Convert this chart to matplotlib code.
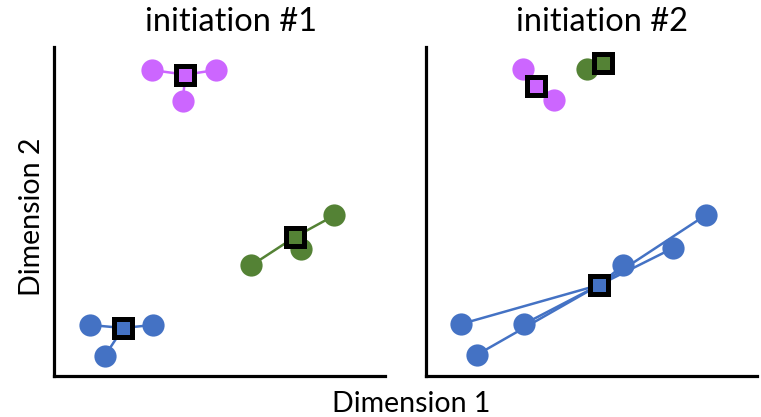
import matplotlib
matplotlib.use("Agg")
import matplotlib.pyplot as plt

plt.rcParams['font.family'] = ['Lato', 'DejaVu Sans']

BLUE = '#4472C4'
GREEN = '#548235'
PINK = '#CC66FF'

# ---- data (arbitrary 0-10 units) ----
titles = ['initiation #1', 'initiation #2']

# initiation #1
i1_pink_x = [2.95, 4.89, 3.89]
i1_pink_y = [9.30, 9.30, 8.37]
i1_pink_c = (3.97, 9.16)
i1_green_x = [5.96, 7.45, 8.47]
i1_green_y = [3.36, 3.87, 4.88]
i1_green_c = (7.27, 4.22)
i1_blue_x = [1.09, 2.98, 1.54]
i1_blue_y = [1.55, 1.55, 0.62]
i1_blue_c = (2.09, 1.46)

# initiation #2
i2_pink_x = [2.92, 3.87]
i2_pink_y = [9.32, 8.38]
i2_pink_c = (3.31, 8.80)
i2_green_x = [4.87]
i2_green_y = [9.32]
i2_green_c = (5.36, 9.52)
i2_blue_x = [1.06, 2.96, 1.53, 5.96, 7.45, 8.45]
i2_blue_y = [1.58, 1.58, 0.64, 3.38, 3.88, 4.89]
i2_blue_c = (5.24, 2.77)

panels = [
    [(i1_pink_x, i1_pink_y, i1_pink_c, PINK),
     (i1_green_x, i1_green_y, i1_green_c, GREEN),
     (i1_blue_x, i1_blue_y, i1_blue_c, BLUE)],
    [(i2_pink_x, i2_pink_y, i2_pink_c, PINK),
     (i2_green_x, i2_green_y, i2_green_c, GREEN),
     (i2_blue_x, i2_blue_y, i2_blue_c, BLUE)],
]

W, H = 761, 417
fig = plt.figure(figsize=(W / 100, H / 100), dpi=100)

axes_px = [(54, 47, 385, 376), (426, 47, 757, 376)]
for (l, t, r, b), clusters in zip(axes_px, panels):
    ax = fig.add_axes([l / W, 1 - b / H, (r - l) / W, (b - t) / H])
    ax.set_xlim(0, 10)
    ax.set_ylim(0, 10)
    for s in ['top', 'right']:
        ax.spines[s].set_visible(False)
    for s in ['left', 'bottom']:
        ax.spines[s].set_linewidth(2.3)
        ax.spines[s].set_color('black')
    ax.set_xticks([])
    ax.set_yticks([])
    for xs, ys, (cx, cy), col in clusters:
        for x, y in zip(xs, ys):
            ax.plot([x, cx], [y, cy], color=col, lw=1.8, zorder=1,
                    solid_capstyle='butt')
    for xs, ys, (cx, cy), col in clusters:
        ax.plot(xs, ys, 'o', color=col, ms=16, mew=0, zorder=2, linestyle='none')
    for xs, ys, (cx, cy), col in clusters:
        ax.plot([cx], [cy], 's', mfc=col, mec='black', ms=13, mew=3.6,
                zorder=3, linestyle='none')

fig.text(231 / W, 1 - 22 / H, titles[0], ha='center', va='center', fontsize=23.5)
fig.text(602.5 / W, 1 - 22 / H, titles[1], ha='center', va='center', fontsize=23.5)
fig.text(411 / W, 1 - 404 / H, 'Dimension 1', ha='center', va='center', fontsize=20.5)
fig.text(32 / W, 1 - 217 / H, 'Dimension 2', ha='center', va='center',
         fontsize=20.5, rotation=90)

fig.savefig('out.png', dpi=100)
